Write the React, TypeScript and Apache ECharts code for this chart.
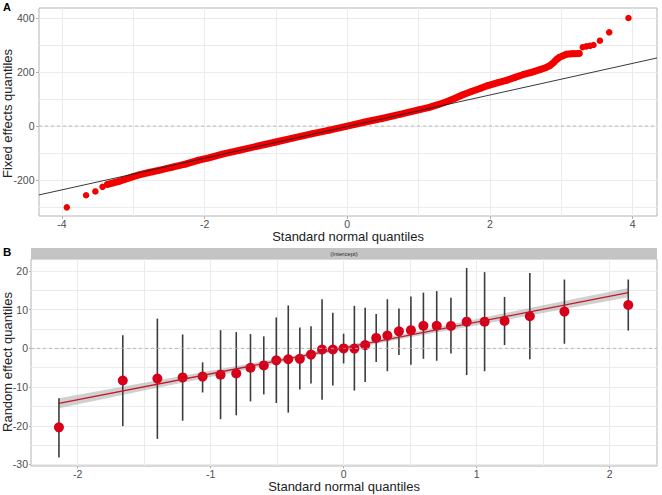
import React, { useEffect, useRef } from "react";
import * as echarts from "echarts";

// ---------- Panel A: fixed effects QQ ----------
const fixedCurveX = [-3.36, -3.29, -3.2, -3.11, -3.01, -2.92, -2.78, -2.64, -2.45, -2.27, -2.08, -1.94, -1.75, -1.5, -1.25, -1, -0.75, -0.5, -0.25, 0, 0.25, 0.5, 0.75, 1, 1.15, 1.27, 1.4, 1.51, 1.62, 1.74, 1.86, 1.97, 2.1, 2.23, 2.35, 2.46, 2.58, 2.7, 2.78, 2.84, 2.89, 2.93, 2.97, 3.02, 3.07, 3.15, 3.25];
const fixedCurveY = [-216, -211, -205, -197, -188, -181, -172, -164, -152, -141, -126, -118, -104, -89, -74, -59, -44, -29, -15, 0, 15, 29, 44, 60, 69, 79, 91, 103, 116, 128, 139, 150, 160, 169, 180, 190, 199, 209, 216, 224, 235, 246, 254, 260, 266, 268, 269];
const fixedTailX = [-3.93, -3.66, -3.53, -3.43, 3.3, 3.35, 3.4, 3.45, 3.54, 3.67, 3.94];
const fixedTailY = [-301, -256, -242, -225, 292, 295, 297, 300, 316, 347, 400];
const qqLineX = [-4.32, 4.34];
const qqLineY = [-255, 252];
const fixedXRange = [-4.32, 4.34];
const fixedYRange = [-333, 437];
const fixedXLabels = [-4, -2, 0, 2, 4];
const fixedXGrid = [-4, -3, -2, -1, 0, 1, 2, 3, 4];
const fixedYLabels = [-200, 0, 200, 400];
const fixedYGrid = [-300, -200, -100, 0, 100, 200, 300, 400];

// ---------- Panel B: random effect QQ ----------
const ranefX = [-2.14, -1.66, -1.4, -1.21, -1.06, -0.925, -0.807, -0.7, -0.6, -0.506, -0.416, -0.329, -0.245, -0.162, -0.081, 0, 0.081, 0.162, 0.245, 0.329, 0.416, 0.506, 0.6, 0.7, 0.807, 0.925, 1.06, 1.21, 1.4, 1.66, 2.14];
const ranefY = [-20.4, -8.3, -7.8, -7.5, -7.3, -6.8, -6.5, -5.0, -4.4, -3.1, -2.8, -2.7, -1.6, -0.3, -0.3, 0, -0.05, 0.85, 2.7, 3.3, 4.4, 4.7, 5.85, 5.85, 5.8, 6.9, 6.9, 7.1, 8.3, 9.5, 11.2];
const ranefLow = [-28.2, -20.1, -23.4, -18.7, -11.4, -18.3, -17.3, -13.7, -11.9, -14.1, -16.6, -10.6, -9.1, -13.3, -9.6, -3.9, -10.9, -8.7, -3.5, -5.9, -1.7, -4.2, -2.7, -3.2, -1.3, -6.9, -5.9, 0.85, -2.8, 1.2, 4.6];
const ranefHigh = [-12.9, 3.4, 7.7, 3.6, -3.6, 4.7, 4.2, 3.7, 3.1, 8.0, 11.1, 5.4, 5.7, 12.7, 9.2, 3.8, 11.0, 10.5, 8.9, 12.7, 10.3, 13.4, 14.4, 14.8, 13.1, 20.8, 19.7, 13.3, 19.5, 17.8, 17.8];
const fitX = [-2.14, 2.14];
const fitY = [-14.2, 14.4];
const bandX = [-2.14, -1.5, -1, -0.5, 0, 0.5, 1, 1.5, 2.14];
const bandLow = [-15.5, -10.9, -7.4, -3.85, -0.45, 2.85, 6.0, 9.15, 13.2];
const bandHigh = [-12.9, -8.9, -5.8, -2.65, 0.65, 4.05, 7.6, 11.15, 15.6];
const ranefXRange = [-2.35, 2.356];
const ranefYRange = [-30.4, 23.1];
const ranefXLabels = [-2, -1, 0, 1, 2];
const ranefXGrid = [-2, -1.5, -1, -0.5, 0, 0.5, 1, 1.5, 2];
const ranefYLabels = [-30, -20, -10, 0, 10, 20];
const ranefYGrid = [-30, -25, -20, -15, -10, -5, 0, 5, 10, 15, 20];
const stripLabel = "(Intercept)";

const FONT = "'Liberation Sans', Arial, Helvetica, sans-serif";
const GRID_COLOR = "#ebebeb";
const BORDER = "#b3b3b3";
const LABEL_COLOR = "#4d4d4d";

function zip(a: number[], b: number[]) {
  return a.map((v, i) => [v, b[i]]);
}

function axisPair(
  dim: "x" | "y",
  gridIndex: number,
  range: number[],
  labels: number[],
  grid: number[],
  margin: number,
  tickLen: number
) {
  const main: any = {
    type: "value",
    gridIndex,
    min: range[0],
    max: range[1],
    position: dim === "x" ? "bottom" : "left",
    axisLine: { show: false, onZero: false },
    axisTick: { show: false, customValues: grid },
    axisLabel: {
      customValues: labels,
      margin,
      fontSize: 10.5,
      color: LABEL_COLOR,
      fontFamily: FONT,
      formatter: (v: number) => String(v),
    },
    splitLine: { show: true, lineStyle: { color: GRID_COLOR, width: 1 } },
  };
  const ticks: any = {
    type: "value",
    gridIndex,
    min: range[0],
    max: range[1],
    position: dim === "x" ? "bottom" : "left",
    axisLine: { show: false, onZero: false },
    axisTick: {
      show: true,
      customValues: labels,
      length: tickLen,
      lineStyle: { color: BORDER, width: 1 },
    },
    axisLabel: { show: false },
    splitLine: { show: false },
  };
  return [main, ticks];
}

export default function App() {
  const ref = useRef<HTMLDivElement>(null);

  useEffect(() => {
    if (!ref.current) return;
    const chart = echarts.init(ref.current, undefined, { renderer: "svg" });

    const red = "#f20000";
    const redB = "#d7001b";

    const xAxes = [
      ...axisPair("x", 0, fixedXRange, fixedXLabels, fixedXGrid, 2, 3),
      ...axisPair("x", 1, ranefXRange, ranefXLabels, ranefXGrid, 2, 2.5),
    ];
    const yAxes = [
      ...axisPair("y", 0, fixedYRange, fixedYLabels, fixedYGrid, 4.5, 3),
      ...axisPair("y", 1, ranefYRange, ranefYLabels, ranefYGrid, 3, 2),
    ];

    const allFixed = [...zip(fixedCurveX, fixedCurveY), ...zip(fixedTailX, fixedTailY)];

    const option: any = {
      animation: false,
      backgroundColor: "#ffffff",
      textStyle: { fontFamily: FONT },
      grid: [
        {
          left: 39, top: 8, width: 618, height: 208,
          show: true, borderColor: BORDER, borderWidth: 1,
          backgroundColor: "transparent", outerBoundsMode: "none", containLabel: false,
        },
        {
          left: 31, top: 259, width: 626, height: 207,
          show: true, borderColor: BORDER, borderWidth: 1,
          backgroundColor: "transparent", outerBoundsMode: "none", containLabel: false,
        },
      ],
      xAxis: xAxes,
      yAxis: yAxes,
      series: [
        // Panel A
        {
          type: "line", xAxisIndex: 0, yAxisIndex: 0, silent: true,
          data: [[fixedXRange[0], 0], [fixedXRange[1], 0]],
          showSymbol: false,
          lineStyle: { color: "#b0b0b0", width: 0.9, type: [3, 3] },
        },
        {
          type: "line", xAxisIndex: 0, yAxisIndex: 0, silent: true,
          data: zip(fixedCurveX, fixedCurveY),
          showSymbol: false,
          lineStyle: { color: red, width: 7, cap: "round", join: "round" },
        },
        {
          type: "scatter", xAxisIndex: 0, yAxisIndex: 0, silent: true,
          data: allFixed,
          symbolSize: 6.5,
          itemStyle: { color: red, opacity: 1 },
        },
        {
          type: "line", xAxisIndex: 0, yAxisIndex: 0, silent: true,
          data: zip(qqLineX, qqLineY),
          showSymbol: false,
          lineStyle: { color: "#222222", width: 0.9 },
        },
        // Panel B
        {
          type: "line", xAxisIndex: 2, yAxisIndex: 2, silent: true,
          data: [[ranefXRange[0], 0], [ranefXRange[1], 0]],
          showSymbol: false,
          lineStyle: { color: "#b0b0b0", width: 0.9, type: [3, 3] },
        },
        {
          type: "custom", xAxisIndex: 2, yAxisIndex: 2, silent: true,
          data: bandX.map((x, i) => [x, bandLow[i], bandHigh[i]]),
          encode: { x: 0, y: [1, 2] },
          renderItem: (params: any, api: any) => {
            if (params.dataIndex !== 0) return null;
            const pts: number[][] = [];
            for (let i = 0; i < bandX.length; i++) pts.push(api.coord([bandX[i], bandHigh[i]]));
            for (let i = bandX.length - 1; i >= 0; i--) pts.push(api.coord([bandX[i], bandLow[i]]));
            return {
              type: "polygon",
              shape: { points: pts },
              style: { fill: "rgba(150,150,150,0.45)", stroke: "none" },
            };
          },
        },
        {
          type: "line", xAxisIndex: 2, yAxisIndex: 2, silent: true,
          data: zip(fitX, fitY),
          showSymbol: false,
          lineStyle: { color: "#c4162a", width: 1.3 },
        },
        {
          type: "custom", xAxisIndex: 2, yAxisIndex: 2, silent: true,
          data: ranefX.map((x, i) => [x, ranefLow[i], ranefHigh[i]]),
          encode: { x: 0, y: [1, 2] },
          renderItem: (params: any, api: any) => {
            const lo = api.coord([api.value(0), api.value(1)]);
            const hi = api.coord([api.value(0), api.value(2)]);
            return {
              type: "line",
              shape: { x1: lo[0], y1: lo[1], x2: hi[0], y2: hi[1] },
              style: { stroke: "#3c3c3c", lineWidth: 1.6 },
            };
          },
        },
        {
          type: "scatter", xAxisIndex: 2, yAxisIndex: 2, silent: true,
          data: zip(ranefX, ranefY),
          symbolSize: 10,
          itemStyle: { color: redB, opacity: 1 },
        },
      ],
      graphic: [
        {
          type: "text", x: 3, y: 6.5,
          style: { text: "A", fontSize: 11, fontWeight: "bold", fontFamily: FONT, fill: "#000", align: "left", verticalAlign: "middle" },
        },
        {
          type: "text", x: 3, y: 251.5,
          style: { text: "B", fontSize: 11.5, fontWeight: "bold", fontFamily: FONT, fill: "#000", align: "left", verticalAlign: "middle" },
        },
        {
          type: "text", x: 348, y: 236.5,
          style: { text: "Standard normal quantiles", fontSize: 13, fontFamily: FONT, fill: "#222", align: "center", verticalAlign: "middle" },
        },
        {
          type: "text", x: 344, y: 486,
          style: { text: "Standard normal quantiles", fontSize: 13, fontFamily: FONT, fill: "#222", align: "center", verticalAlign: "middle" },
        },
        {
          type: "text", x: 7, y: 113.5, rotation: Math.PI / 2,
          style: { text: "Fixed effects quantiles", fontSize: 13, fontFamily: FONT, fill: "#222", align: "center", verticalAlign: "middle" },
        },
        {
          type: "text", x: 7.5, y: 362, rotation: Math.PI / 2,
          style: { text: "Random effect quantiles", fontSize: 13, fontFamily: FONT, fill: "#222", align: "center", verticalAlign: "middle" },
        },
        {
          type: "rect",
          shape: { x: 31, y: 248, width: 626, height: 11 },
          style: { fill: "#c4c4c4" },
        },
        {
          type: "text", x: 344, y: 253.5,
          style: { text: stripLabel, fontSize: 6, fontFamily: FONT, fill: "#2a2a2a", align: "center", verticalAlign: "middle" },
        },
      ],
    };

    chart.setOption(option);
    return () => chart.dispose();
  }, []);

  return (
    <div
      ref={ref}
      style={{ position: "fixed", left: 0, top: 0, width: 662, height: 495, background: "#fff" }}
    />
  );
}
